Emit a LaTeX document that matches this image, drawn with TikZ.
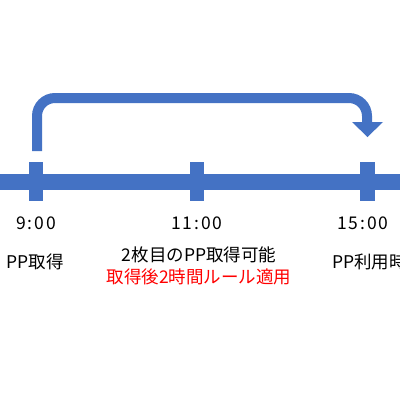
\documentclass[tikz,border=0pt]{standalone}
\usepackage{fontspec}
\setmainfont{Noto Sans CJK JP}
\newfontfamily\digitfont[LetterSpace=11]{Noto Sans CJK JP}
\definecolor{tlblue}{HTML}{4472C4}
\definecolor{tlred}{HTML}{FF0000}
\tikzset{
  tick/.style={fill=tlblue, draw=none},
  lbl/.style={font=\fontsize{17.5}{20}\selectfont, inner sep=0pt, anchor=center},
  tlbl/.style={font=\digitfont\fontsize{17.5}{20}\selectfont, inner sep=0pt, anchor=center},
}
\begin{document}
\begin{tikzpicture}[x=1pt,y=-1pt]
\useasboundingbox (0,0) rectangle (400,400);
\fill[white] (0,0) rectangle (400,400);
% timeline bar
\fill[tlblue] (0,174) rectangle (400,190);
% ticks
\fill[tick] (29,162) rectangle (43,201);
\fill[tick] (190,162) rectangle (204,201);
\fill[tick] (360,162) rectangle (375,201);
% bent arrow
\coordinate (s) at (37,151);
\coordinate (c) at (367,98);
\coordinate (e) at (367,123);
\draw[tlblue, line width=10pt, rounded corners=18pt] (s) |- (c) -- (e);
\fill[tlblue] (352,122) -- (383,122) -- (367.5,137) -- cycle;
% labels
\node[tlbl] (t1) at (36,223) {9:00};
\node[tlbl] (t2) at (197,223) {11:00};
\node[tlbl] (t3) at (363,223) {15:00};
\node[lbl] (l1) at (35,262) {PP取得};
\node[lbl] (l2) at (199,255) {2枚目のPP取得可能};
\node[lbl, text=tlred] (l3) at (199,277) {取得後2時間ルール適用};
\node[lbl, anchor=west] (l4) at (332,262) {PP利用時};
\end{tikzpicture}
\end{document}
